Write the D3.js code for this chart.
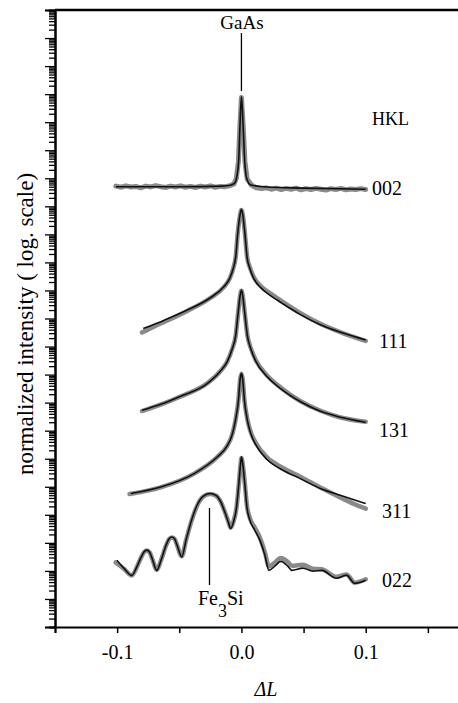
<!DOCTYPE html>
<html>
<head>
<meta charset="utf-8">
<script src="https://cdn.jsdelivr.net/npm/d3@7"></script>
<style>
  body { margin: 0; background: #fff; }
  svg { display: block; font-family: "Liberation Serif", "DejaVu Serif", serif; }
</style>
</head>
<body>
<svg id="chart" width="458" height="703"></svg>
<script>
// Scans around the GaAs peaks, data (grey) and fit (black)
// every point is [deltaL, log10 of normalized intensity incl. vertical offset]

const xTickValues = [-0.15, -0.1, -0.05, 0, 0.05, 0.1, 0.15];
const xLabelValues = [-0.1, 0, 0.1];
const decadeCount = 22;
const hklNames = ["002", "111", "131", "311", "022"];

const fit002 = [[-0.101, 15.70], [-0.05, 15.70], [-0.015, 15.72], [-0.009, 15.75], [-0.005, 15.85],
  [-0.004, 16.00], [-0.0022, 16.65], [-0.0012, 17.84], [0, 18.91], [0.0014, 17.84], [0.0026, 16.65],
  [0.0042, 16.00], [0.0075, 15.76], [0.02, 15.69], [0.05, 15.65], [0.1, 15.61]];
const data002 = [[-0.101, 15.72], [-0.097, 15.68], [-0.093, 15.73], [-0.089, 15.69], [-0.085, 15.71],
  [-0.081, 15.66], [-0.077, 15.72], [-0.073, 15.69], [-0.069, 15.74], [-0.065, 15.70], [-0.061, 15.67],
  [-0.057, 15.72], [-0.053, 15.69], [-0.049, 15.73], [-0.045, 15.68], [-0.041, 15.71], [-0.037, 15.67],
  [-0.033, 15.72], [-0.029, 15.69], [-0.025, 15.73], [-0.021, 15.68], [-0.017, 15.71], [-0.013, 15.70],
  [-0.009, 15.74], [-0.006, 15.80], [-0.0042, 15.98], [-0.0024, 16.6], [-0.0013, 17.8],
  [0, 18.88], [0.0015, 17.8], [0.0028, 16.6], [0.0046, 15.98], [0.008, 15.76], [0.012, 15.66],
  [0.016, 15.63], [0.02, 15.66], [0.024, 15.61], [0.028, 15.65], [0.032, 15.60], [0.036, 15.64],
  [0.04, 15.61], [0.044, 15.65], [0.048, 15.59], [0.052, 15.63], [0.056, 15.60], [0.06, 15.64],
  [0.064, 15.61], [0.068, 15.58], [0.072, 15.63], [0.076, 15.60], [0.08, 15.64], [0.084, 15.59],
  [0.088, 15.62], [0.092, 15.60], [0.096, 15.63], [0.1, 15.60]];

const fit111 = [[-0.079, 10.64], [-0.062, 10.94], [-0.0436, 11.30], [-0.025, 11.74], [-0.0142, 12.13],
  [-0.0095, 12.42], [-0.0065, 12.80], [-0.0046, 13.20], [-0.003, 14.03], [-0.0012, 14.68], [0, 14.89],
  [0.0012, 14.68], [0.0028, 14.03], [0.0045, 13.20], [0.0068, 12.78], [0.01, 12.42], [0.0155, 12.10],
  [0.022, 11.86], [0.029, 11.65], [0.0475, 11.14], [0.0635, 10.78], [0.082, 10.48], [0.1, 10.23]];
const data111 = [[-0.08, 10.50], [-0.07, 10.72], [-0.062, 10.88], [-0.0436, 11.27], [-0.025, 11.73],
  [-0.0142, 12.12], [-0.0095, 12.42], [-0.0065, 12.80], [-0.0046, 13.20], [-0.003, 14.03],
  [-0.0012, 14.66], [0, 14.87], [0.0012, 14.66], [0.0028, 14.03], [0.0045, 13.22], [0.0068, 12.82],
  [0.01, 12.47], [0.0155, 12.16], [0.022, 11.93], [0.029, 11.72], [0.0475, 11.19], [0.0635, 10.81],
  [0.082, 10.47], [0.1, 10.20]];

const fit131 = [[-0.08, 7.73], [-0.065, 7.94], [-0.049, 8.23], [-0.0275, 8.68], [-0.017, 9.12],
  [-0.0115, 9.45], [-0.0075, 9.90], [-0.0046, 10.40], [-0.0027, 11.18], [-0.0011, 11.80], [0, 12.01],
  [0.0011, 11.80], [0.0027, 11.18], [0.0048, 10.38], [0.0075, 9.92], [0.0115, 9.48], [0.0208, 8.92],
  [0.0315, 8.50], [0.0476, 8.03], [0.0636, 7.69], [0.0797, 7.48], [0.1, 7.30]];
const data131 = [[-0.08, 7.70], [-0.065, 7.93], [-0.049, 8.22], [-0.0275, 8.69], [-0.017, 9.12],
  [-0.0115, 9.46], [-0.0075, 9.91], [-0.0046, 10.40], [-0.0027, 11.18], [-0.0011, 11.78], [0, 11.99],
  [0.0011, 11.78], [0.0027, 11.18], [0.0048, 10.40], [0.0075, 9.95], [0.0115, 9.52], [0.0208, 8.96],
  [0.0315, 8.54], [0.0476, 8.05], [0.0636, 7.71], [0.0797, 7.47], [0.1, 7.32]];

const fit311 = [[-0.089, 4.76], [-0.065, 4.99], [-0.038, 5.47], [-0.0195, 6.06], [-0.012, 6.42],
  [-0.0075, 6.85], [-0.0048, 7.37], [-0.0024, 8.09], [-0.001, 8.85], [0, 9.05], [0.001, 8.85],
  [0.0024, 8.09], [0.0048, 7.37], [0.0075, 6.90], [0.0115, 6.50], [0.0206, 5.97], [0.033, 5.60],
  [0.0474, 5.29], [0.0635, 4.94], [0.0795, 4.70], [0.1, 4.40]];
const data311 = [[-0.09, 4.74], [-0.065, 4.98], [-0.038, 5.47], [-0.0195, 6.06], [-0.012, 6.42],
  [-0.0075, 6.85], [-0.0048, 7.37], [-0.0024, 8.09], [-0.001, 8.83], [0, 9.03], [0.001, 8.83],
  [0.0024, 8.09], [0.0048, 7.40], [0.0075, 6.95], [0.0115, 6.57], [0.0206, 6.05], [0.033, 5.68],
  [0.0474, 5.36], [0.0635, 4.97], [0.0795, 4.62], [0.09, 4.40], [0.1, 4.22]];

const fit022 = [[-0.1002, 2.38], [-0.0944, 2.09], [-0.0882, 1.84], [-0.0839, 2.17], [-0.0807, 2.49],
  [-0.0783, 2.68], [-0.0761, 2.74], [-0.0739, 2.67], [-0.0719, 2.45], [-0.0681, 2.02], [-0.0647, 2.38],
  [-0.0606, 2.92], [-0.0582, 3.15], [-0.0561, 3.21], [-0.0538, 3.15], [-0.0518, 2.92], [-0.048, 2.50],
  [-0.0446, 3.09], [-0.0406, 3.74], [-0.0357, 4.34], [-0.0309, 4.66], [-0.0253, 4.76], [-0.0205, 4.70],
  [-0.0165, 4.45], [-0.0133, 4.09], [-0.0104, 3.72], [-0.0087, 3.51], [-0.0064, 3.74], [-0.0039, 4.28],
  [-0.0022, 5.06], [-0.0008, 5.77], [0, 6.07], [0.0012, 5.77], [0.0028, 5.06], [0.0044, 4.28],
  [0.0068, 3.81], [0.0108, 3.45], [0.0149, 3.09], [0.0189, 2.56], [0.0221, 2.02], [0.0269, 2.17],
  [0.0317, 2.34], [0.0373, 2.17], [0.0406, 2.02], [0.0494, 2.10], [0.0574, 1.99], [0.0647, 2.02],
  [0.0765, 1.74], [0.0845, 1.85], [0.0912, 1.56], [0.1, 1.67]];
const data022 = [[-0.1012, 2.30], [-0.0944, 2.07], [-0.0882, 1.84], [-0.0839, 2.16], [-0.0807, 2.48],
  [-0.0783, 2.67], [-0.0761, 2.73], [-0.0739, 2.66], [-0.0719, 2.45], [-0.0681, 2.04], [-0.0647, 2.38],
  [-0.0606, 2.91], [-0.0582, 3.13], [-0.0561, 3.19], [-0.0538, 3.14], [-0.0518, 2.92], [-0.048, 2.52],
  [-0.0446, 3.09], [-0.0406, 3.72], [-0.0357, 4.32], [-0.0309, 4.64], [-0.0253, 4.74], [-0.0205, 4.68],
  [-0.0165, 4.45], [-0.0133, 4.10], [-0.0104, 3.74], [-0.0087, 3.54], [-0.0064, 3.76], [-0.0039, 4.28],
  [-0.0022, 5.04], [-0.0008, 5.74], [0, 6.03], [0.0012, 5.76], [0.0028, 5.08], [0.0044, 4.34],
  [0.0068, 3.88], [0.0108, 3.54], [0.0149, 3.18], [0.0189, 2.66], [0.0221, 2.16], [0.0269, 2.30],
  [0.0317, 2.46], [0.0373, 2.32], [0.0406, 2.18], [0.0494, 2.22], [0.0574, 2.08], [0.0647, 2.06],
  [0.0765, 1.79], [0.0845, 1.87], [0.0912, 1.58], [0.1, 1.70]];

const series = [
  { data: data002, fit: fit002, jagged: true },
  { data: data111, fit: fit111 },
  { data: data131, fit: fit131 },
  { data: data311, fit: fit311 },
  { data: data022, fit: fit022 }
];

// layout
const svg = d3.select("#chart");
const plotLeft = 55, plotTop = 10, plotBottom = 627;

const x = d3.scaleLinear().domain([-0.15, 0.2]).range([plotLeft, 490]);
const y = d3.scaleLog().domain([1, Math.pow(10, decadeCount)]).range([plotBottom, plotTop]);

const majors = d3.range(0, decadeCount + 1).map(k => Math.pow(10, k));
const minors = [];
d3.range(0, decadeCount).forEach(k => {
  d3.range(2, 10).forEach(m => minors.push(m * Math.pow(10, k)));
});

// y axis (log, unlabeled)
const yMinor = svg.append("g")
  .attr("transform", `translate(${plotLeft},0)`)
  .call(d3.axisLeft(y).tickValues(minors).tickSize(6).tickFormat(""));
const yMajor = svg.append("g")
  .attr("transform", `translate(${plotLeft},0)`)
  .call(d3.axisLeft(y).tickValues(majors).tickSize(10).tickFormat(""));
[yMinor, yMajor].forEach(g => {
  g.select(".domain").attr("stroke-width", 2);
  g.selectAll(".tick line").attr("stroke-width", 1.3);
});

// x axis
const xAxis = svg.append("g")
  .attr("transform", `translate(0,${plotBottom})`)
  .call(d3.axisBottom(x).tickValues(xTickValues).tickSize(6).tickPadding(12)
    .tickFormat(d => xLabelValues.some(v => Math.abs(v - d) < 1e-9) ? d.toFixed(1) : ""));
xAxis.select(".domain").attr("stroke-width", 2);
xAxis.selectAll(".tick line").attr("stroke-width", 1.5);
xAxis.selectAll("text").attr("font-size", 20).attr("font-family", "Liberation Serif").attr("fill", "#000");

// top frame line
svg.append("line")
  .attr("x1", x(-0.15)).attr("x2", x(0.2))
  .attr("y1", plotTop).attr("y2", plotTop)
  .attr("stroke", "#000").attr("stroke-width", 2.5);

// curves
const line = d3.line()
  .x(d => x(d[0]))
  .y(d => y(Math.pow(10, d[1])))
  .curve(d3.curveMonotoneX);
const roughLine = d3.line()
  .x(d => x(d[0]))
  .y(d => y(Math.pow(10, d[1])));

series.forEach(s => {
  svg.append("path").datum(s.data)
    .attr("fill", "none").attr("stroke", "#8a8a8a")
    .attr("stroke-width", s.jagged ? 5 : 4.5)
    .attr("stroke-linejoin", "round").attr("stroke-linecap", "round")
    .attr("d", s.jagged ? roughLine : line);
});
series.forEach(s => {
  svg.append("path").datum(s.fit)
    .attr("fill", "none").attr("stroke", "#111")
    .attr("stroke-width", 1.6).attr("stroke-linejoin", "round")
    .attr("d", line);
});

// annotations
svg.append("text").attr("x", 242).attr("y", 29).attr("text-anchor", "middle")
  .attr("font-size", 19).text("GaAs");
svg.append("line").attr("x1", x(0)).attr("x2", x(0)).attr("y1", 33).attr("y2", 91)
  .attr("stroke", "#000").attr("stroke-width", 1.3);

svg.append("text").attr("x", 372).attr("y", 125).attr("font-size", 18).text("HKL");

const hklPos = [[372, 195], [379, 348], [379, 437], [382, 518], [382, 587]];
hklNames.forEach((name, i) => {
  svg.append("text").attr("x", hklPos[i][0]).attr("y", hklPos[i][1])
    .attr("font-size", 20).text(name);
});

svg.append("line").attr("x1", x(-0.0257)).attr("x2", x(-0.0257)).attr("y1", 508).attr("y2", 585)
  .attr("stroke", "#000").attr("stroke-width", 1.3);
const fe = svg.append("text").attr("x", 198).attr("y", 605).attr("font-size", 20);
fe.append("tspan").text("Fe");
fe.append("tspan").attr("dy", 12).attr("font-size", 18).text("3");
fe.append("tspan").attr("dy", -12).text("Si");

svg.append("text").attr("x", 266).attr("y", 696).attr("text-anchor", "middle")
  .attr("font-size", 20).attr("font-style", "italic").text("ΔL");

svg.append("text")
  .attr("transform", "translate(33,324) rotate(-90)")
  .attr("text-anchor", "middle").attr("font-size", 23)
  .text("normalized intensity ( log. scale)");
</script>
</body>
</html>
